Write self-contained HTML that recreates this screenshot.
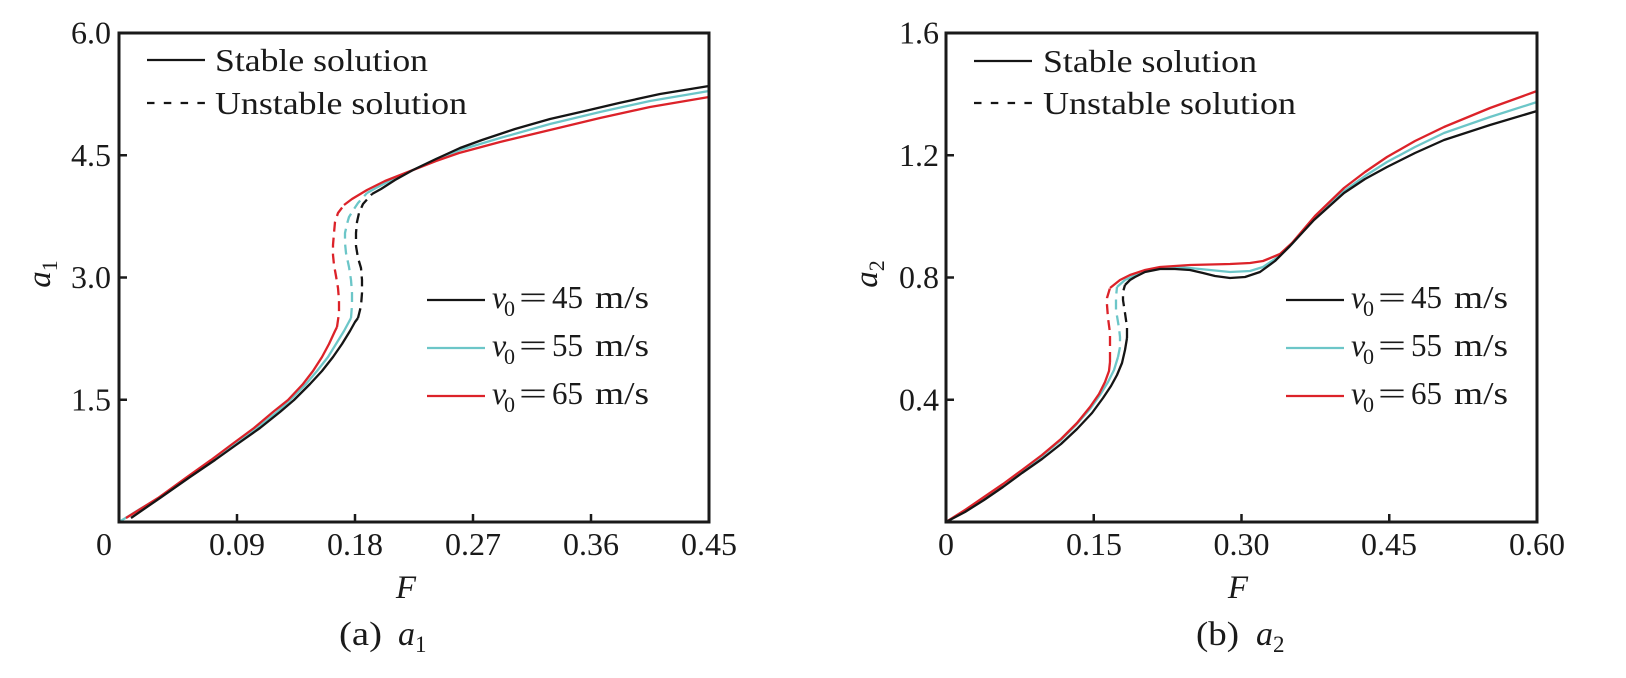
<!DOCTYPE html>
<html>
<head>
<meta charset="utf-8">
<style>
html,body{margin:0;padding:0;background:#fff;}
svg{display:block;}
text{font-family:"Liberation Serif",serif;fill:#1a1a1a;}
.it{font-style:italic;}
</style>
</head>
<body>
<svg width="1626" height="678" viewBox="0 0 1626 678" xmlns="http://www.w3.org/2000/svg">
<rect width="1626" height="678" fill="#fff"/>

<!-- ================= LEFT PLOT ================= -->
<g fill="none" stroke-linejoin="round" stroke-linecap="butt" stroke-width="2.3">
  <!-- cyan -->
  <polyline stroke="#6cc6c8" points="119,522 140,509 159,498 189,477 213,460 234,445 257,428 277,412 290,400 306,384 317,371 328,357 336,344 344,331 351,318"/>
  <polyline stroke="#6cc6c8" stroke-dasharray="10 6" points="351,318 352,305 352,293 351,280 349,267 346,253 345,243 345,233 347,224 349,217 354,209 358,203 367,193"/>
  <polyline stroke="#6cc6c8" points="367,193 376,188 395,178 413,170 436,159 460,150 500,138 550,124 600,112 650,101 709,91"/>
  <!-- red -->
  <polyline stroke="#dc2229" points="126,518 158,498 187,477 211,460 231,445 254,428 273,412 288,400 303,384 313,371 322,357 329,344 335,331 337,327"/>
  <polyline stroke="#dc2229" stroke-dasharray="10 6" points="337,327 339,313 339,300 338,288 336,276 334,265 333,255 333,245 334,233 335,222 338,213 344,205"/>
  <polyline stroke="#dc2229" points="344,205 352,199 367,190 385,181 413,170 436,161 459,153 500,142 550,130 600,118 650,107 709,97"/>
  <!-- black -->
  <polyline stroke="#151515" points="131,518 160,498 190,477 215,460 236,445 260,428 280,412 294,400 310,384 322,371 333,357 342,344 350,331 355,322 358,318"/>
  <polyline stroke="#151515" stroke-dasharray="10 6" points="358,318 361,306 362,293 362,280 361,268 358,258 356,246 356,233 357,222 359,213 363,204 372,194"/>
  <polyline stroke="#151515" points="372,194 381,189 395,180 413,170 436,159 460,148 482,140 515,129 550,119 585,111 619,103 660,94 709,86"/>
</g>

<!-- frame -->
<rect x="119" y="33" width="590" height="489" fill="none" stroke="#1a1a1a" stroke-width="3"/>
<!-- ticks -->
<g stroke="#1a1a1a" stroke-width="2.5">
  <line x1="119" y1="155.25" x2="127" y2="155.25"/>
  <line x1="119" y1="277.5" x2="127" y2="277.5"/>
  <line x1="119" y1="399.75" x2="127" y2="399.75"/>
  <line x1="237" y1="522" x2="237" y2="514"/>
  <line x1="355" y1="522" x2="355" y2="514"/>
  <line x1="473" y1="522" x2="473" y2="514"/>
  <line x1="591" y1="522" x2="591" y2="514"/>
</g>
<!-- tick labels -->
<g font-size="32" text-anchor="end">
  <text x="111" y="43.5">6.0</text>
  <text x="111" y="165.75">4.5</text>
  <text x="111" y="288">3.0</text>
  <text x="111" y="410.25">1.5</text>
</g>
<g font-size="32" text-anchor="middle">
  <text x="104" y="555">0</text>
  <text x="237" y="555">0.09</text>
  <text x="355" y="555">0.18</text>
  <text x="473" y="555">0.27</text>
  <text x="591" y="555">0.36</text>
  <text x="709" y="555">0.45</text>
</g>
<!-- axis titles -->
<text class="it" x="406" y="598" font-size="33" text-anchor="middle">F</text>
<text transform="translate(50,274) rotate(-90)" font-size="33" text-anchor="middle"><tspan class="it">a</tspan><tspan font-size="22" dy="7">1</tspan></text>
<!-- caption -->
<text x="339" y="645" font-size="34" textLength="43" lengthAdjust="spacingAndGlyphs">(a)</text>
<text class="it" x="398" y="645" font-size="34">a</text>
<text x="415" y="652" font-size="23">1</text>

<!-- legend top -->
<line x1="147" y1="60" x2="205" y2="60" stroke="#151515" stroke-width="2.3"/>
<text x="215" y="71" font-size="32" textLength="213" lengthAdjust="spacingAndGlyphs">Stable solution</text>
<line x1="147" y1="103" x2="205" y2="103" stroke="#151515" stroke-width="2.3" stroke-dasharray="7.5 9.3"/>
<text x="215" y="114" font-size="32" textLength="252" lengthAdjust="spacingAndGlyphs">Unstable solution</text>

<!-- legend v0 -->
<line x1="427" y1="300" x2="485" y2="300" stroke="#151515" stroke-width="2.3"/>
<line x1="427" y1="348" x2="485" y2="348" stroke="#6cc6c8" stroke-width="2.3"/>
<line x1="427" y1="396" x2="485" y2="396" stroke="#dc2229" stroke-width="2.3"/>
<g font-size="32">
  <text class="it" x="492" y="308">v</text><text x="504" y="316" font-size="22">0</text>
  <text x="519" y="308" textLength="28" lengthAdjust="spacingAndGlyphs">=</text>
  <text x="552" y="308" textLength="31" lengthAdjust="spacingAndGlyphs">45</text>
  <text x="595" y="308" textLength="54" lengthAdjust="spacingAndGlyphs">m/s</text>

  <text class="it" x="492" y="356">v</text><text x="504" y="364" font-size="22">0</text>
  <text x="519" y="356" textLength="28" lengthAdjust="spacingAndGlyphs">=</text>
  <text x="552" y="356" textLength="31" lengthAdjust="spacingAndGlyphs">55</text>
  <text x="595" y="356" textLength="54" lengthAdjust="spacingAndGlyphs">m/s</text>

  <text class="it" x="492" y="404">v</text><text x="504" y="412" font-size="22">0</text>
  <text x="519" y="404" textLength="28" lengthAdjust="spacingAndGlyphs">=</text>
  <text x="552" y="404" textLength="31" lengthAdjust="spacingAndGlyphs">65</text>
  <text x="595" y="404" textLength="54" lengthAdjust="spacingAndGlyphs">m/s</text>
</g>

<!-- ================= RIGHT PLOT ================= -->
<g fill="none" stroke-linejoin="round" stroke-linecap="butt" stroke-width="2.3">
  <!-- cyan -->
  <polyline stroke="#6cc6c8" points="946,522 965,511 984,499 1003,485 1022,471 1042,456 1060,441 1076,425 1090,409 1100,395 1108,382 1114,370 1118,357"/>
  <polyline stroke="#6cc6c8" stroke-dasharray="10 6" points="1118,357 1120,347 1120,337 1119,328 1116,310 1116,297 1117,287"/>
  <polyline stroke="#6cc6c8" points="1117,287 1125,280 1140,273 1160,268 1175,267 1190,268 1210,270 1230,272 1250,271 1263,267 1278,257 1292,244 1315,218 1344,191 1365,176 1387,162 1415,147 1444,133 1490,117 1537,102"/>
  <!-- red -->
  <polyline stroke="#dc2229" points="946,522 965,510 984,497 1003,484 1022,470 1042,455 1061,439 1077,423 1090,407 1099,394 1105,382 1109,371 1110,362"/>
  <polyline stroke="#dc2229" stroke-dasharray="10 6" points="1110,362 1110,348 1110,333 1108,318 1107,305 1107,298 1110,288"/>
  <polyline stroke="#dc2229" points="1110,288 1120,280 1130,275 1145,270 1160,267 1190,265 1230,264 1250,263 1263,261 1280,254 1292,243 1315,216 1344,188 1365,172 1387,157 1415,141 1444,127 1490,108 1537,91"/>
  <!-- black -->
  <polyline stroke="#151515" points="946,522 965,512 984,500 1003,487 1022,473 1042,459 1061,444 1077,429 1092,413 1103,398 1111,386 1117,375 1122,363 1125,350 1127,338"/>
  <polyline stroke="#151515" stroke-dasharray="10 6" points="1127,338 1127,327 1125,313 1123,300 1123,292 1125,285"/>
  <polyline stroke="#151515" points="1125,285 1130,280 1135,277 1145,272 1160,269 1175,269 1190,270 1203,273 1215,276 1230,278 1245,277 1260,272 1275,261 1290,246 1314,220 1344,193 1365,179 1387,167 1415,153 1444,140 1490,125 1537,111"/>
</g>

<rect x="946" y="33" width="591" height="489" fill="none" stroke="#1a1a1a" stroke-width="3"/>
<g stroke="#1a1a1a" stroke-width="2.5">
  <line x1="946" y1="155.25" x2="954" y2="155.25"/>
  <line x1="946" y1="277.5" x2="954" y2="277.5"/>
  <line x1="946" y1="399.75" x2="954" y2="399.75"/>
  <line x1="1093.75" y1="522" x2="1093.75" y2="514"/>
  <line x1="1241.5" y1="522" x2="1241.5" y2="514"/>
  <line x1="1389.25" y1="522" x2="1389.25" y2="514"/>
</g>
<g font-size="32" text-anchor="end">
  <text x="939" y="43.5">1.6</text>
  <text x="939" y="165.75">1.2</text>
  <text x="939" y="288">0.8</text>
  <text x="939" y="410.25">0.4</text>
</g>
<g font-size="32" text-anchor="middle">
  <text x="946" y="555">0</text>
  <text x="1094" y="555">0.15</text>
  <text x="1241.5" y="555">0.30</text>
  <text x="1389" y="555">0.45</text>
  <text x="1537" y="555">0.60</text>
</g>
<text class="it" x="1238" y="598" font-size="33" text-anchor="middle">F</text>
<text transform="translate(877,274) rotate(-90)" font-size="33" text-anchor="middle"><tspan class="it">a</tspan><tspan font-size="22" dy="7">2</tspan></text>
<text x="1196" y="645" font-size="34" textLength="43" lengthAdjust="spacingAndGlyphs">(b)</text>
<text class="it" x="1256" y="645" font-size="34">a</text>
<text x="1273" y="652" font-size="23">2</text>

<line x1="974" y1="61" x2="1032" y2="61" stroke="#151515" stroke-width="2.3"/>
<text x="1043" y="72" font-size="32" textLength="214" lengthAdjust="spacingAndGlyphs">Stable solution</text>
<line x1="974" y1="103" x2="1032" y2="103" stroke="#151515" stroke-width="2.3" stroke-dasharray="7.5 9.3"/>
<text x="1043" y="114" font-size="32" textLength="253" lengthAdjust="spacingAndGlyphs">Unstable solution</text>

<line x1="1286" y1="300" x2="1344" y2="300" stroke="#151515" stroke-width="2.3"/>
<line x1="1286" y1="348" x2="1344" y2="348" stroke="#6cc6c8" stroke-width="2.3"/>
<line x1="1286" y1="396" x2="1344" y2="396" stroke="#dc2229" stroke-width="2.3"/>
<g font-size="32">
  <text class="it" x="1351" y="308">v</text><text x="1363" y="316" font-size="22">0</text>
  <text x="1378" y="308" textLength="28" lengthAdjust="spacingAndGlyphs">=</text>
  <text x="1411" y="308" textLength="31" lengthAdjust="spacingAndGlyphs">45</text>
  <text x="1454" y="308" textLength="54" lengthAdjust="spacingAndGlyphs">m/s</text>

  <text class="it" x="1351" y="356">v</text><text x="1363" y="364" font-size="22">0</text>
  <text x="1378" y="356" textLength="28" lengthAdjust="spacingAndGlyphs">=</text>
  <text x="1411" y="356" textLength="31" lengthAdjust="spacingAndGlyphs">55</text>
  <text x="1454" y="356" textLength="54" lengthAdjust="spacingAndGlyphs">m/s</text>

  <text class="it" x="1351" y="404">v</text><text x="1363" y="412" font-size="22">0</text>
  <text x="1378" y="404" textLength="28" lengthAdjust="spacingAndGlyphs">=</text>
  <text x="1411" y="404" textLength="31" lengthAdjust="spacingAndGlyphs">65</text>
  <text x="1454" y="404" textLength="54" lengthAdjust="spacingAndGlyphs">m/s</text>
</g>
</svg>
</body>
</html>
